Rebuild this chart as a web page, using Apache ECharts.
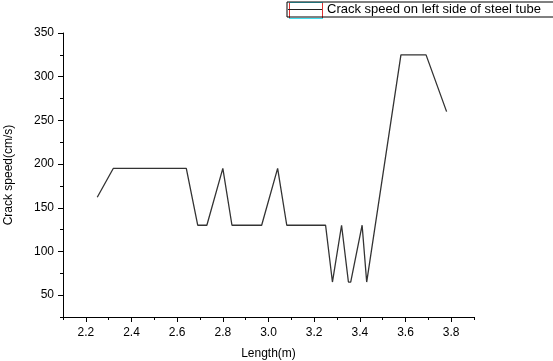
<!DOCTYPE html>
<html>
<head>
<meta charset="utf-8">
<script src="https://cdn.jsdelivr.net/npm/echarts@6/dist/echarts.min.js"></script>
<style>html,body{margin:0;padding:0;background:#fff;}#c{width:553px;height:361px;}</style>
</head>
<body>
<div id="c"></div>
<script>
var lengths = [2.25, 2.32, 2.64, 2.69, 2.73, 2.80, 2.84, 2.97, 3.04, 3.08, 3.25, 3.28, 3.32, 3.35, 3.36, 3.41, 3.43, 3.58, 3.69, 3.78];
var speeds  = [162, 195, 195, 130, 130, 195, 130, 130, 195, 130, 130, 65, 130, 65, 65, 130, 65, 325, 325, 260];
var xMajorTicks = [2.2, 2.4, 2.6, 2.8, 3.0, 3.2, 3.4, 3.6, 3.8];
var xMinorTicks = [2.1, 2.3, 2.5, 2.7, 2.9, 3.1, 3.3, 3.5, 3.7, 3.9];
var yMajorTicks = [50, 100, 150, 200, 250, 300, 350];
var yMinorTicks = [25, 75, 125, 175, 225, 275, 325];
var seriesName = 'Crack speed on left side of steel tube';

var chart = echarts.init(document.getElementById('c'), null, {renderer: 'canvas'});
var font = 'Liberation Sans, Arial, sans-serif';
var axisLineStyle = {color: '#000', width: 1};
chart.setOption({
  animation: false,
  backgroundColor: '#fff',
  textStyle: {fontFamily: font},
  grid: {left: 63, right: 79, top: 33, bottom: 44, containLabel: false, outerBoundsMode: 'none'},
  legend: {
    show: true,
    left: 287, top: 2,
    orient: 'horizontal',
    itemWidth: 34, itemHeight: 14,
    itemGap: 5,
    padding: [1, 30, 1, 1],
    borderColor: '#000', borderWidth: 1,
    textStyle: {color: '#000', fontSize: 13, fontFamily: font},
    data: [{name: seriesName, icon: 'path://M0,6.5 L34,6.5 L34,7.5 L0,7.5 Z', itemStyle: {color: '#222'}}]
  },
  graphic: [
    {type: 'line', shape: {x1: 289.5, y1: 3, x2: 289.5, y2: 18}, style: {stroke: '#e03030', lineWidth: 1}, silent: true},
    {type: 'line', shape: {x1: 322.5, y1: 3, x2: 322.5, y2: 18}, style: {stroke: '#e03030', lineWidth: 1}, silent: true},
    {type: 'line', shape: {x1: 289, y1: 18.5, x2: 323, y2: 18.5}, style: {stroke: '#40e0f0', lineWidth: 1}, silent: true},
    {type: 'line', shape: {x1: 289, y1: 2.5, x2: 323, y2: 2.5}, style: {stroke: '#40e0f0', lineWidth: 1}, silent: true}
  ],
  xAxis: [{
    type: 'value', min: 2.1, max: 3.9,
    name: 'Length(m)', nameLocation: 'middle', nameGap: 31,
    nameTextStyle: {color: '#000', fontSize: 12, fontFamily: font},
    axisLine: {show: true, lineStyle: axisLineStyle},
    axisTick: {show: true, length: 5, lineStyle: axisLineStyle, customValues: xMajorTicks},
    axisLabel: {color: '#000', fontSize: 12, margin: 10, customValues: xMajorTicks, formatter: function (v) { return v.toFixed(1); }},
    splitLine: {show: false}
  }, {
    type: 'value', min: 2.1, max: 3.9, position: 'bottom',
    axisLine: {show: false},
    axisTick: {show: true, length: 3, lineStyle: axisLineStyle, customValues: xMinorTicks},
    axisLabel: {show: false},
    splitLine: {show: false}
  }],
  yAxis: [{
    type: 'value', min: 25, max: 350,
    name: 'Crack speed(cm/s)', nameLocation: 'middle', nameGap: 48, nameRotate: 90,
    nameTextStyle: {color: '#000', fontSize: 12, fontFamily: font},
    axisLine: {show: true, lineStyle: axisLineStyle},
    axisTick: {show: true, length: 5, lineStyle: axisLineStyle, customValues: yMajorTicks},
    axisLabel: {color: '#000', fontSize: 12, margin: 9, customValues: yMajorTicks},
    splitLine: {show: false}
  }, {
    type: 'value', min: 25, max: 350, position: 'left',
    axisLine: {show: false},
    axisTick: {show: true, length: 3, lineStyle: axisLineStyle, customValues: yMinorTicks},
    axisLabel: {show: false},
    splitLine: {show: false}
  }],
  series: [{
    name: seriesName,
    type: 'line',
    xAxisIndex: 0, yAxisIndex: 0,
    data: lengths.map(function (x, i) { return [x, speeds[i]]; }),
    showSymbol: false, symbol: 'none',
    lineStyle: {color: '#333', width: 1.3},
    itemStyle: {color: '#333'}
  }]
});
</script>
</body>
</html>
